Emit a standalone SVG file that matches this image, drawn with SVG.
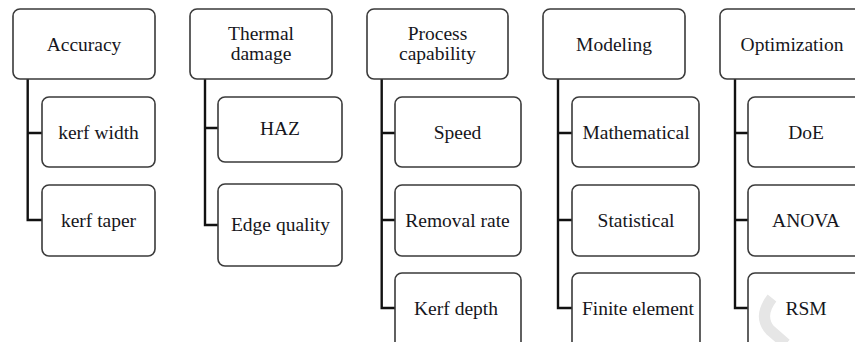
<svg xmlns="http://www.w3.org/2000/svg" width="855" height="342" viewBox="0 0 855 342">
  <style>
    .box { fill: #ffffff; stroke: #3a3a3a; stroke-width: 1.6; }
    .lbl { font-family: "Liberation Serif", "Times New Roman", serif; font-size: 19.5px; fill: #161620; text-anchor: middle; }
    .link { fill: none; stroke: #111111; stroke-width: 2.4; }
  </style>
  <rect width="855" height="342" fill="#ffffff"/>

  <!-- tree connectors: one trunk per column, with a tick into each child -->
  <g id="connectors" class="link">
    <path d="M27.7,79 V220 H42 M27.7,133 H42"/>
    <path d="M205,79 V225 H218 M205,128 H218"/>
    <path d="M381.7,79 V308 H395 M381.7,133 H395 M381.7,220 H395"/>
    <path d="M558,79 V308 H572 M558,133 H572 M558,220 H572"/>
    <path d="M735,79 V308 H748 M735,133 H748 M735,220 H748"/>
  </g>

  <!-- column 1 -->
  <g id="accuracy"><rect class="box" x="13" y="9" width="142" height="70" rx="7"/><text class="lbl" x="84" y="51">Accuracy</text></g>
  <g id="kerf-width"><rect class="box" x="42" y="97" width="113" height="70" rx="7"/><text class="lbl" x="98.5" y="139">kerf width</text></g>
  <g id="kerf-taper"><rect class="box" x="42" y="185" width="113" height="71" rx="7"/><text class="lbl" x="98.5" y="227">kerf taper</text></g>

  <!-- column 2 -->
  <g id="thermal-damage"><rect class="box" x="190" y="9" width="142" height="70" rx="7"/><text class="lbl" x="261" y="40">Thermal</text><text class="lbl" x="261" y="60">damage</text></g>
  <g id="haz"><rect class="box" x="218" y="97" width="124" height="65" rx="7"/><text class="lbl" x="280" y="135">HAZ</text></g>
  <g id="edge-quality"><rect class="box" x="218" y="184" width="124" height="82" rx="7"/><text class="lbl" x="280.5" y="231">Edge quality</text></g>

  <!-- column 3 -->
  <g id="process-capability"><rect class="box" x="367" y="9" width="141" height="70" rx="7"/><text class="lbl" x="437.5" y="40">Process</text><text class="lbl" x="437.5" y="60">capability</text></g>
  <g id="speed"><rect class="box" x="395" y="97" width="126" height="70" rx="7"/><text class="lbl" x="457.5" y="139">Speed</text></g>
  <g id="removal-rate"><rect class="box" x="395" y="185" width="126" height="71" rx="7"/><text class="lbl" x="457.5" y="227">Removal rate</text></g>
  <g id="kerf-depth"><rect class="box" x="395" y="273" width="126" height="80" rx="7"/><text class="lbl" x="456" y="315">Kerf depth</text></g>

  <!-- column 4 -->
  <g id="modeling"><rect class="box" x="543" y="9" width="142" height="70" rx="7"/><text class="lbl" x="614" y="51">Modeling</text></g>
  <g id="mathematical"><rect class="box" x="572" y="97" width="127" height="70" rx="7"/><text class="lbl" x="636" y="139">Mathematical</text></g>
  <g id="statistical"><rect class="box" x="572" y="185" width="127" height="71" rx="7"/><text class="lbl" x="636" y="227">Statistical</text></g>
  <g id="finite-element"><rect class="box" x="572" y="273" width="128" height="80" rx="7"/><text class="lbl" x="638" y="315">Finite element</text></g>

  <!-- column 5 -->
  <g id="optimization"><rect class="box" x="720" y="9" width="150" height="70" rx="7"/><text class="lbl" x="792" y="51">Optimization</text></g>
  <g id="doe"><rect class="box" x="748" y="97" width="130" height="70" rx="7"/><text class="lbl" x="806" y="139">DoE</text></g>
  <g id="anova"><rect class="box" x="748" y="185" width="130" height="71" rx="7"/><text class="lbl" x="806" y="227">ANOVA</text></g>
  <g id="rsm"><rect class="box" x="748" y="273" width="130" height="80" rx="7"/>
    <path d="M772,298 Q758,316 770,330 L786,344" fill="none" stroke="#e6e6e6" stroke-width="11"/>
    <text class="lbl" x="806" y="315">RSM</text></g>
</svg>
